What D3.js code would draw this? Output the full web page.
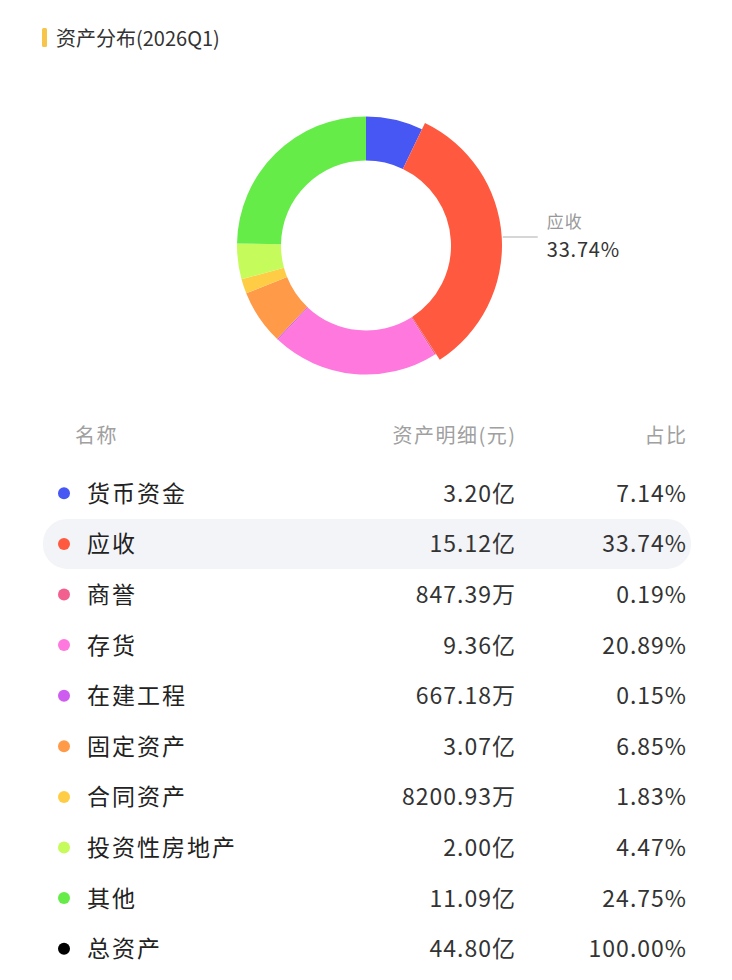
<!DOCTYPE html>
<html>
<head>
<meta charset="utf-8">
<script src="https://cdn.jsdelivr.net/npm/d3@7"></script>
<style>
  body { margin: 0; background: #fff; }
  svg { display: block; font-family: "Noto Sans CJK SC", "Noto Sans", sans-serif; }
</style>
</head>
<body>
<div class="canvas"></div>
<script>
const names = ["货币资金", "应收", "商誉", "存货", "在建工程", "固定资产", "合同资产", "投资性房地产", "其他"];
const amounts = ["3.20亿", "15.12亿", "847.39万", "9.36亿", "667.18万", "3.07亿", "8200.93万", "2.00亿", "11.09亿"];
const shares = [7.14, 33.74, 0.19, 20.89, 0.15, 6.85, 1.83, 4.47, 24.75];
const colors = ["#4657f3", "#ff5a40", "#f2608f", "#ff78de", "#cf5cf0", "#ff9a48", "#ffcd45", "#c6fb5c", "#66ec49"];
const totalName = "总资产";
const totalAmount = "44.80亿";
const totalShare = "100.00%";
const highlighted = "应收";

const W = 732, H = 980;
const svg = d3.select(".canvas").append("svg").attr("width", W).attr("height", H);

// title
svg.append("rect").attr("x", 42).attr("y", 28).attr("width", 5).attr("height", 19)
  .attr("rx", 1.5).attr("fill", "#f6c549");
svg.append("text").attr("x", 56).attr("y", 45.5).attr("font-size", 20).attr("fill", "#333")
  .text("资产分布(2026Q1)");

// donut
const cx = 366, cy = 245.5;
const inner = 85, outer = 129, outerHi = 136;
const pie = d3.pie().sort(null).value((d) => d.value);
const slices = names.map((n, i) => ({ name: n, value: shares[i], color: colors[i] }));
const arcs = pie(slices);
const g = svg.append("g").attr("transform", `translate(${cx},${cy})`);
g.selectAll("path")
  .data(arcs)
  .join("path")
  .attr("d", (d) => d3.arc().innerRadius(inner).outerRadius(d.data.name === highlighted ? outerHi : outer)(d))
  .attr("fill", (d) => d.data.color);

// label for highlighted slice
const hi = arcs.find((d) => d.data.name === highlighted);
const mid = (hi.startAngle + hi.endAngle) / 2;
const lx = Math.sin(mid) * outerHi, ly = -Math.cos(mid) * outerHi;
g.append("path")
  .attr("d", `M${lx + 1},${ly}L${lx + 36},${ly}`)
  .attr("stroke", "#c8c8c8").attr("stroke-width", 1.5).attr("fill", "none");
g.append("text").attr("x", lx + 45).attr("y", ly - 9).attr("font-size", 17)
  .attr("letter-spacing", 1).attr("fill", "#999")
  .text(hi.data.name);
g.append("text").attr("x", lx + 45).attr("y", ly + 20).attr("font-size", 20)
  .attr("letter-spacing", 0.8).attr("fill", "#333")
  .text(hi.data.value.toFixed(2) + "%");

// table
const colName = 87, colAmt = 515, colPct = 686;
const header = svg.append("g").attr("font-size", 20).attr("letter-spacing", 1.5).attr("fill", "#a0a0a0");
header.append("text").attr("x", 75).attr("y", 443).text("名称");
header.append("text").attr("x", colAmt + 1.5).attr("y", 443).attr("text-anchor", "end").text("资产明细(元)");
header.append("text").attr("x", colPct + 1.5).attr("y", 443).attr("text-anchor", "end").text("占比");

const rows = names.map((n, i) => ({
  name: n, amount: amounts[i], pct: shares[i].toFixed(2) + "%", color: colors[i]
}));
rows.push({ name: totalName, amount: totalAmount, pct: totalShare, color: "#000" });

const yScale = d3.scaleBand().domain(rows.map((d, i) => i)).range([468, 974]);

const rowG = svg.selectAll(".row").data(rows).join("g").attr("class", "row")
  .attr("transform", (d, i) => `translate(0,${yScale(i) + yScale.bandwidth() / 2})`);

rowG.filter((d) => d.name === highlighted)
  .append("rect").attr("x", 43).attr("y", -25).attr("width", 648).attr("height", 50)
  .attr("rx", 24).attr("fill", "#f3f4f8");

rowG.append("circle").attr("cx", 64).attr("cy", 0).attr("r", 6).attr("fill", (d) => d.color);
rowG.append("text").attr("x", colName).attr("y", 8.5).attr("font-size", 23)
  .attr("letter-spacing", 2).attr("fill", "#222")
  .text((d) => d.name);
rowG.append("text").attr("x", colAmt + 1).attr("y", 8.5).attr("font-size", 23)
  .attr("letter-spacing", 1).attr("fill", "#333")
  .attr("text-anchor", "end").text((d) => d.amount);
rowG.append("text").attr("x", colPct + 1).attr("y", 8.5).attr("font-size", 23)
  .attr("letter-spacing", 1).attr("fill", "#333")
  .attr("text-anchor", "end").text((d) => d.pct);
</script>
</body>
</html>
